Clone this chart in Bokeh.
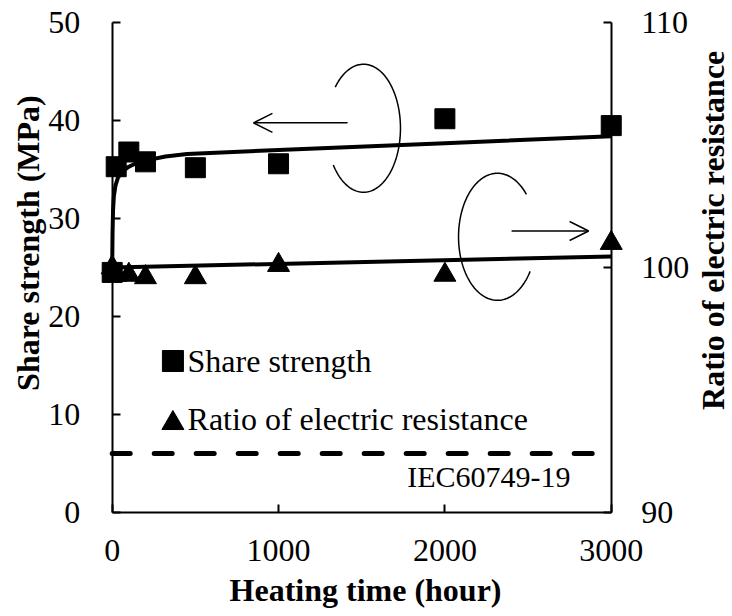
import numpy as np
from bokeh.plotting import figure
from bokeh.models import Range1d, LinearAxis, Label, Arrow, OpenHead, FixedTicker
from bokeh.embed import file_html
from bokeh.resources import INLINE

# ---- data ----
hours_ss = [0, 24, 100, 200, 500, 1000, 2000, 3000]
share_strength = [24.5, 35.3, 36.8, 35.8, 35.2, 35.6, 40.2, 39.5]

hours_rr = [0, 24, 100, 200, 500, 1000, 2000, 3000]
resistance_ratio = [100.0, 99.7, 99.7, 99.6, 99.6, 100.1, 99.7, 101.0]

fit_hours_ss = [0, 2, 5, 10, 20, 35, 60, 100, 150, 220, 320, 450, 1000, 2000, 3000]
fit_ss = [25.0, 28.5, 30.8, 32.3, 33.4, 34.2, 34.8, 35.3, 35.7, 36.0, 36.35, 36.6, 37.0, 37.7, 38.4]

fit_hours_rr = [0, 3000]
fit_rr = [100.0, 100.45]

iec_hours = [0, 3000]
iec_limit = [6, 6]

x_ticks = [0, 1000, 2000, 3000]
left_ticks = [0, 10, 20, 30, 40, 50]
right_ticks = [90, 100, 110]

FONT = "Liberation Serif"

# The drawing area covers the whole figure; the axes sit at fixed data
# locations inside it so that nothing (edge markers, titles) gets clipped.
Y0, Y1 = -10.65, 52.28
p = figure(
    width=732, height=616,
    x_range=Range1d(-671.5, 3729), y_range=Range1d(Y0, Y1),
    output_backend="svg", toolbar_location=None,
    min_border=0, min_border_left=0, min_border_right=0,
    min_border_top=0, min_border_bottom=0,
    background_fill_color="white", border_fill_color="white",
    x_axis_location=None, y_axis_location=None,
)
p.outline_line_color = None
p.grid.visible = False
p.extra_y_ranges = {"ratio": Range1d(90 + Y0 * 0.4, 90 + Y1 * 0.4)}

def style_axis(ax, ticks):
    ax.ticker = FixedTicker(ticks=ticks)
    ax.axis_line_width = 2
    ax.axis_line_color = "black"
    ax.major_tick_in = 8
    ax.major_tick_out = 0
    ax.major_tick_line_width = 2
    ax.minor_tick_in = 0
    ax.minor_tick_out = 0
    ax.major_label_text_font = FONT
    ax.major_label_text_font_size = "32px"
    ax.major_label_text_color = "black"

xax = LinearAxis(fixed_location=0, bounds=(0, 3000))
style_axis(xax, x_ticks)
xax.major_label_standoff = 28
p.add_layout(xax, "below")

lax = LinearAxis(fixed_location=0, bounds=(0, 50))
style_axis(lax, left_ticks)
lax.major_label_standoff = 32
p.add_layout(lax, "left")

rax = LinearAxis(y_range_name="ratio", fixed_location=3000, bounds=(90, 110))
style_axis(rax, right_ticks)
rax.major_label_standoff = 30
p.add_layout(rax, "right")

# IEC limit dashed line
p.line(iec_hours, iec_limit, line_color="black", line_width=5,
       line_dash="18 24", line_cap="round")

# fitted curves
p.line(fit_hours_ss, fit_ss, line_color="black", line_width=4)
p.line(fit_hours_rr, fit_rr, line_color="black", line_width=4, y_range_name="ratio")

# data points
p.scatter(hours_ss, share_strength, marker="square", size=20, color="black")
p.scatter(hours_rr, resistance_ratio, marker="triangle", size=22, color="black",
          y_range_name="ratio")

# elliptical arcs (annotation)
def arc(cx, cy, ax, by, a0, a1):
    th = np.radians(np.linspace(a0, a1, 120))
    return cx + ax * np.cos(th), cy + by * np.sin(th)

xs, ys = arc(1511, 39.23, 222, 6.54, 140, -145)
p.line(xs, ys, line_color="black", line_width=1.5)
xs, ys = arc(2316, 28.14, 234, 6.49, 42, 327)
p.line(xs, ys, line_color="black", line_width=1.5)

p.add_layout(Arrow(end=OpenHead(size=19, line_width=1.5, line_color="black"),
                   x_start=1415, y_start=39.78, x_end=849, y_end=39.78,
                   line_width=1.5, line_color="black"))
p.add_layout(Arrow(end=OpenHead(size=19, line_width=1.5, line_color="black"),
                   x_start=2401, y_start=28.73, x_end=2864, y_end=28.73,
                   line_width=1.5, line_color="black"))

# legend
p.scatter([365], [15.45], marker="square", size=21, color="black")
p.scatter([365], [9.1], marker="triangle", size=22, color="black")
for txt, yv in [("Share strength", 15.5), ("Ratio of electric resistance", 9.55)]:
    p.add_layout(Label(x=453, y=yv, text=txt, text_font=FONT, text_font_size="32px",
                       text_color="black", text_baseline="alphabetic", text_align="left"))

p.add_layout(Label(x=2755, y=3.66, text="IEC60749-19", text_font=FONT,
                   text_font_size="30px", text_color="black",
                   text_baseline="alphabetic", text_align="right"))

# axis titles
p.add_layout(Label(x=-506, y=27.5, text="Share strength (MPa)", text_font=FONT,
                   text_font_size="32px", text_font_style="bold", angle=np.pi / 2,
                   text_align="center", text_baseline="middle", text_color="black"))
p.add_layout(Label(x=3612, y=28.8, text="Ratio of electric resistance", text_font=FONT,
                   text_font_size="32px", text_font_style="bold", angle=np.pi / 2,
                   text_align="center", text_baseline="middle", text_color="black"))
p.add_layout(Label(x=1523, y=-7.93, text="Heating time (hour)", text_font=FONT,
                   text_font_size="32px", text_font_style="bold",
                   text_align="center", text_baseline="alphabetic", text_color="black"))

open("out.html", "w").write(file_html(p, INLINE))
